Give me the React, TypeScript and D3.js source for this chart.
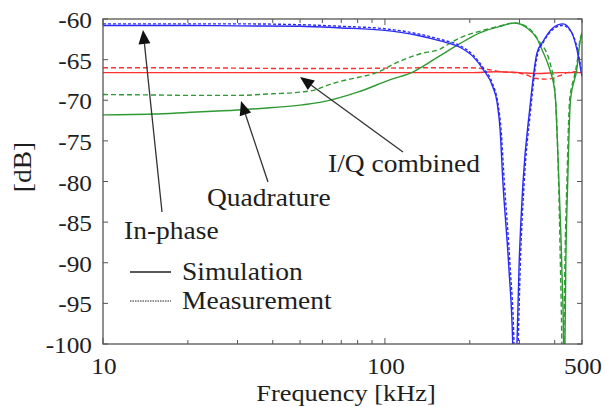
import React from "react";
import * as d3 from "d3";

const W = 605;
const H = 407;
const plot = { left: 103, right: 582, top: 19, bottom: 344 };

// Frequency (kHz) / level (dB) pairs for each trace
const inPhaseSim: [number, number][] = [
  [10, -60.8], [15, -60.8], [20, -60.8], [30, -60.85], [50, -60.9], [70, -61.1],
  [100, -61.4], [130, -62.0], [157, -62.7], [185, -63.5], [205, -64.6], [223, -66.2],
  [241, -68.3], [250, -70.3], [256, -73.5], [262, -80], [275, -90.5], [284, -100],
  [289, -112], [294, -100], [299, -90.5], [309, -80], [326, -71.2], [346, -64.2],
  [363, -62.8], [394, -61.1], [428, -60.6], [460, -61.7], [480, -63.8], [500, -67.1],
];
const inPhaseMeas: [number, number][] = [
  [10, -60.6], [15, -60.6], [20, -60.6], [30, -60.6], [50, -60.7], [70, -60.9],
  [100, -61.2], [130, -61.8], [157, -62.5], [185, -63.3], [205, -64.4], [223, -66.0],
  [241, -68.0], [252, -70.5], [258, -73.5], [265, -80], [278, -90.5], [287, -100],
  [292, -112], [297, -100], [302, -90.5], [312, -80], [328, -71.5], [347, -64.5],
  [364, -62.9], [394, -61.3], [426, -60.8], [456, -61.5], [480, -63.5], [500, -66.8],
];
const quadSim: [number, number][] = [
  [10, -71.8], [15, -71.7], [20, -71.5], [30, -71.2], [40, -70.9], [50, -70.6],
  [60, -70.2], [80, -69.0], [104, -67.5], [126, -66.5], [157, -64.5], [185, -63.0],
  [217, -61.7], [256, -60.9], [289, -60.5], [319, -61.1], [346, -62.4], [363, -64.0],
  [385, -66.3], [401, -69.1], [414, -80], [424, -90.5], [430, -100], [432, -112],
  [435, -100], [438, -90.5], [445, -80], [455, -70], [480, -66.0], [491, -63.0], [500, -61.7],
];
const quadMeas: [number, number][] = [
  [10, -69.3], [15, -69.35], [20, -69.4], [30, -69.4], [40, -69.2], [50, -69.0],
  [57, -68.7], [62, -68.2], [75, -67.4], [80, -67.2], [98, -66.3], [104, -65.8],
  [136, -64.2], [157, -63.7], [166, -63.2], [185, -62.3], [223, -61.4], [260, -60.8],
  [285, -60.5], [320, -61.0], [350, -62.6], [385, -65.4], [401, -69.0], [413, -80],
  [419, -90], [424, -100], [427, -112], [431, -100], [435, -90], [442, -80],
  [452, -70], [470, -67.0], [482, -65.0], [491, -62.7], [500, -61.8],
];
const combinedSim: [number, number][] = [
  [10, -66.6], [30, -66.6], [60, -66.6], [100, -66.6], [200, -66.6], [250, -66.5],
  [300, -66.6], [350, -66.7], [420, -66.6], [500, -66.6],
];
const combinedMeas: [number, number][] = [
  [10, -66.0], [20, -66.0], [30, -66.05], [50, -66.1], [70, -66.1], [100, -66.05],
  [150, -66.0], [200, -66.0], [220, -66.1], [240, -66.3], [260, -66.5], [290, -66.6],
  [320, -66.9], [340, -67.3], [370, -67.4], [395, -67.3], [415, -67.0], [445, -66.6],
  [470, -66.5], [500, -66.5],
];

const xTicks = [10, 20, 30, 40, 50, 60, 70, 80, 90, 100, 200, 300, 400, 500];
const xLabels = [10, 100, 500];
const yTicks = [-60, -65, -70, -75, -80, -85, -90, -95, -100];

const BLUE = "#2a2af5";
const GREEN = "#2e9a32";
const RED = "#ff3030";
const INK = "#333";
const TEXT = "#1e1e1e";
const FONT = "'Liberation Serif', 'Times New Roman', serif";

const x = d3.scaleLog().domain([10, 500]).range([plot.left, plot.right]);
const y = d3.scaleLinear().domain([-100, -60]).range([plot.bottom, plot.top]);

const line = d3
  .line<[number, number]>()
  .x((d) => x(d[0]))
  .y((d) => y(d[1]))
  .curve(d3.curveMonotoneX);

const traces = [
  { data: combinedSim, color: RED, dash: undefined },
  { data: combinedMeas, color: RED, dash: "5,3" },
  { data: quadSim, color: GREEN, dash: undefined },
  { data: quadMeas, color: GREEN, dash: "5,3" },
  { data: inPhaseSim, color: BLUE, dash: undefined },
  { data: inPhaseMeas, color: BLUE, dash: "3,2" },
];

// Text with the slightly wide serif look of the figure
function Label({
  x: tx,
  y: ty,
  size,
  anchor = "start",
  children,
}: {
  x: number;
  y: number;
  size: number;
  anchor?: "start" | "middle" | "end";
  children: React.ReactNode;
}) {
  return (
    <text
      transform={`translate(${tx},${ty}) scale(1.1,1)`}
      fontSize={size}
      textAnchor={anchor}
      fill={TEXT}
    >
      {children}
    </text>
  );
}

function Arrow({ x1, y1, x2, y2 }: { x1: number; y1: number; x2: number; y2: number }) {
  const len = 14;
  const half = 6;
  const dx = x2 - x1;
  const dy = y2 - y1;
  const d = Math.hypot(dx, dy);
  const ux = dx / d;
  const uy = dy / d;
  const bx = x2 - ux * len;
  const by = y2 - uy * len;
  const pts = [
    [x2, y2],
    [bx - uy * half, by + ux * half],
    [bx + uy * half, by - ux * half],
  ]
    .map((p) => p.join(","))
    .join(" ");
  return (
    <g>
      <line x1={x1} y1={y1} x2={bx} y2={by} stroke={INK} strokeWidth={1.3} />
      <polygon points={pts} fill="#111" />
    </g>
  );
}

export default function App() {
  return (
    <svg
      width={W}
      height={H}
      style={{ position: "absolute", left: 0, top: 0, background: "#fff" }}
      fontFamily={FONT}
    >
      <defs>
        <clipPath id="plotArea">
          <rect x={plot.left} y={plot.top} width={plot.right - plot.left} height={plot.bottom - plot.top} />
        </clipPath>
      </defs>

      <g clipPath="url(#plotArea)">
        {traces.map((t, i) => (
          <path
            key={i}
            d={line(t.data) || ""}
            fill="none"
            stroke={t.color}
            strokeWidth={1.4}
            strokeDasharray={t.dash}
          />
        ))}
      </g>

      {/* frame */}
      <rect
        x={plot.left}
        y={plot.top}
        width={plot.right - plot.left}
        height={plot.bottom - plot.top}
        fill="none"
        stroke="#555"
        strokeWidth={1.3}
      />

      {/* x ticks (inside, top and bottom) */}
      {xTicks.map((t) => {
        const len = t === 10 || t === 100 ? 6 : 4;
        return (
          <g key={"xt" + t} stroke="#555" strokeWidth={1}>
            <line x1={x(t)} x2={x(t)} y1={plot.bottom} y2={plot.bottom - len} />
            <line x1={x(t)} x2={x(t)} y1={plot.top} y2={plot.top + len} />
          </g>
        );
      })}
      {xLabels.map((t) => (
        <Label key={"xl" + t} x={x(t) + 1} y={374} size={23} anchor="middle">
          {t}
        </Label>
      ))}

      {/* y ticks (inside, left and right) */}
      {yTicks.map((t) => (
        <g key={"yt" + t} stroke="#555" strokeWidth={1}>
          <line x1={plot.left} x2={plot.left + 5} y1={y(t)} y2={y(t)} />
          <line x1={plot.right} x2={plot.right - 5} y1={y(t)} y2={y(t)} />
        </g>
      ))}
      {yTicks.map((t) => (
        <Label key={"yl" + t} x={92} y={y(t) + 9} size={23} anchor="end">
          {t}
        </Label>
      ))}

      {/* axis titles */}
      <Label x={346} y={401} size={24} anchor="middle">
        Frequency [kHz]
      </Label>
      <text
        transform={`translate(31,167) rotate(-90) scale(1.1,1)`}
        fontSize={25}
        textAnchor="middle"
        fill={TEXT}
      >
        [dB]
      </text>

      {/* annotations */}
      <Arrow x1={162} y1={212} x2={143} y2={30} />
      <Arrow x1={268} y1={182} x2={241} y2={101} />
      <Arrow x1={403} y1={152} x2={300} y2={77} />
      <Label x={124} y={239} size={25}>In-phase</Label>
      <Label x={207} y={206} size={25}>Quadrature</Label>
      <Label x={328} y={172} size={25}>I/Q combined</Label>

      {/* legend */}
      <line x1={130} x2={171} y1={272} y2={272} stroke="#222" strokeWidth={1.4} />
      <Label x={182} y={280} size={25}>Simulation</Label>
      <line x1={130} x2={171} y1={301} y2={301} stroke="#222" strokeWidth={1} strokeDasharray="1.5,1" />
      <Label x={182} y={309} size={25}>Measurement</Label>
    </svg>
  );
}
